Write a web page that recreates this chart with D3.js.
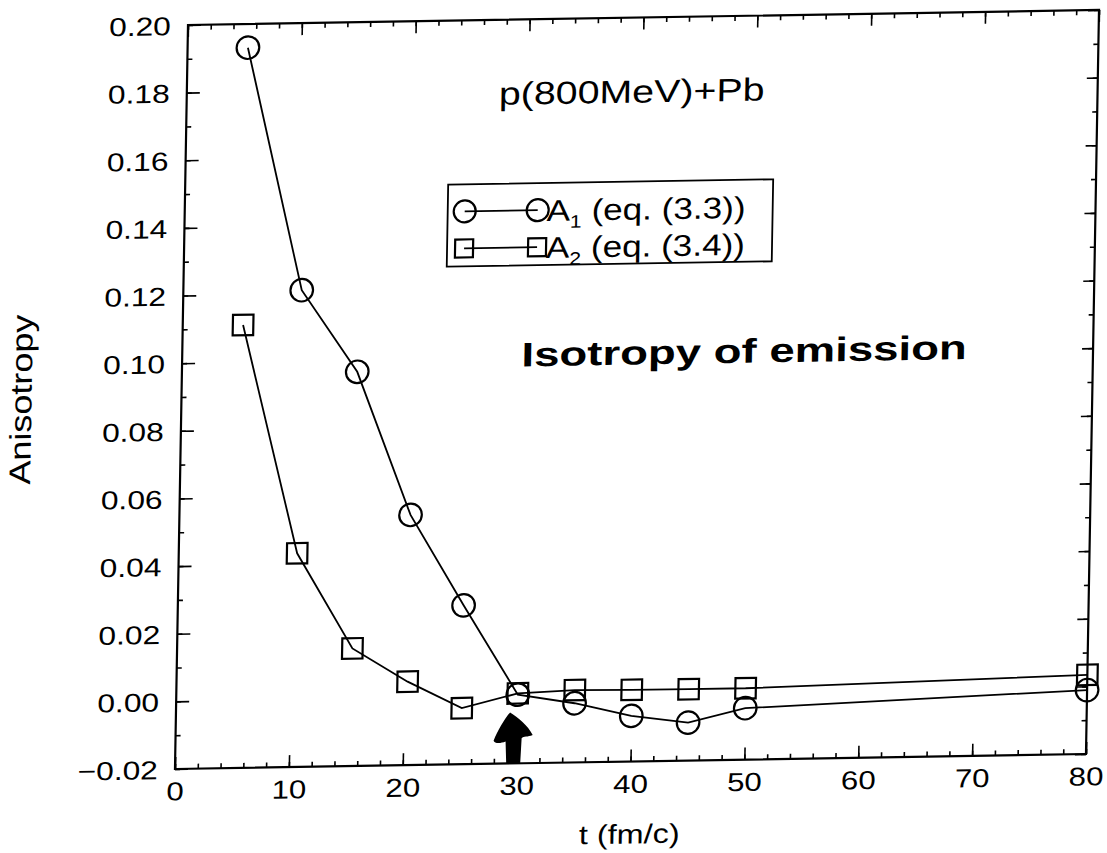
<!DOCTYPE html>
<html><head><meta charset="utf-8">
<script src="https://cdn.jsdelivr.net/npm/d3@7"></script>
<style>
html,body{margin:0;padding:0;background:#fff;}
svg{display:block;}
text{font-family:"Liberation Sans",Arial,Helvetica,sans-serif;fill:#000;}
</style></head><body>
<svg id="chart" width="1107" height="853"></svg>
<script>
// ---- data ----
const times    = [5.3, 10.4, 15.4, 20.3, 25.1, 30, 35, 40, 45, 50, 80];
const a1Values = [0.193, 0.121, 0.0966, 0.054, 0.027, 0.0003, -0.0025, -0.0065, -0.0088, -0.0048, -0.0011];
const a2Values = [0.111, 0.0432, 0.0148, 0.0047, -0.0034, 0.0007, 0.0014, 0.0012, 0.0011, 0.0011, 0.0034];
const xTicks = [0, 10, 20, 30, 40, 50, 60, 70, 80];
const xTickLabels = ["0", "10", "20", "30", "40", "50", "60", "70", "80"];
const yTicks = [-0.02, 0.00, 0.02, 0.04, 0.06, 0.08, 0.10, 0.12, 0.14, 0.16, 0.18, 0.20];
const yTickLabels = ["\u22120.02", "0.00", "0.02", "0.04", "0.06", "0.08", "0.10", "0.12", "0.14", "0.16", "0.18", "0.20"];
const legendMain = ["A", "A"];
const legendSub = ["1", "2"];
const legendRest = [" (eq. (3.3))", " (eq. (3.4))"];
const titleText = "p(800MeV)+Pb";
const xLabel = "t (fm/c)";
const yLabel = "Anisotropy";
const noteText = "Isotropy of emission";

// ---- layout ----
const W = 911, H = 744, SX = 1.2;
const svg = d3.select("#chart");
// the scanned page is slightly skewed: reproduce with an affine transform
const g = svg.append("g").attr("transform", "matrix(1,-0.0165,-0.0175,1,188,25)");

const x = d3.scaleLinear().domain([0, 80]).range([0, W]);
const y = d3.scaleLinear().domain([-0.02, 0.20]).range([H, 0]);

function styleAxis(sel) {
  sel.select(".domain").remove();
  sel.selectAll("line").attr("stroke", "#000").attr("stroke-width", 1.6);
}

// minor ticks
g.append("g").attr("transform", `translate(0,${H})`)
  .call(d3.axisBottom(x).ticks(40).tickSize(-5).tickFormat("")).call(styleAxis);
g.append("g")
  .call(d3.axisTop(x).ticks(40).tickSize(-5).tickFormat("")).call(styleAxis);
g.append("g")
  .call(d3.axisLeft(y).ticks(22).tickSize(-5).tickFormat("")).call(styleAxis);
g.append("g").attr("transform", `translate(${W},0)`)
  .call(d3.axisRight(y).ticks(22).tickSize(-5).tickFormat("")).call(styleAxis);

// major ticks
const xb = g.append("g").attr("transform", `translate(0,${H})`)
  .call(d3.axisBottom(x).tickValues(xTicks).tickSize(-12).tickPadding(13)
    .tickFormat((d, i) => xTickLabels[i])).call(styleAxis);
xb.selectAll("text").attr("font-size", 26).attr("transform", `scale(${SX},1)`)
  .attr("font-family", "Liberation Sans, Arial, sans-serif").attr("fill", "#000");
g.append("g")
  .call(d3.axisTop(x).tickValues(xTicks).tickSize(-12).tickFormat("")).call(styleAxis);
const yl = g.append("g")
  .call(d3.axisLeft(y).tickValues(yTicks).tickSize(-13).tickPadding(14)
    .tickFormat((d, i) => yTickLabels[i])).call(styleAxis);
yl.selectAll("text").attr("font-size", 26).attr("dy", "0.36em").attr("transform", `scale(1.22,1)`)
  .attr("font-family", "Liberation Sans, Arial, sans-serif").attr("fill", "#000");
g.append("g").attr("transform", `translate(${W},0)`)
  .call(d3.axisRight(y).tickValues(yTicks).tickSize(-11).tickFormat("")).call(styleAxis);

// frame
g.append("rect").attr("x", x(0)).attr("y", y(0.20)).attr("width", x(80) - x(0)).attr("height", y(-0.02) - y(0.20))
  .attr("fill", "none").attr("stroke", "#000").attr("stroke-width", 2.2);

// axis titles
g.append("text").attr("transform", `translate(${(x(0) + x(80)) / 2},${H + 82}) scale(${SX},1)`)
  .attr("text-anchor", "middle").attr("font-size", 27).text(xLabel);
g.append("text").attr("transform", `translate(-150,${(y(0.20) + y(-0.02)) / 2}) rotate(-90) scale(${SX},1)`)
  .attr("text-anchor", "middle").attr("font-size", 30).text(yLabel);

// title
g.append("text").attr("transform", `translate(445,85) scale(1.23,1)`)
  .attr("text-anchor", "middle").attr("font-size", 32).text(titleText);

// data
const pts1 = times.map((t, i) => [t, a1Values[i]]);
const pts2 = times.map((t, i) => [t, a2Values[i]]);
const line = d3.line().x(d => x(d[0])).y(d => y(d[1]));
g.append("path").datum(pts1).attr("d", line).attr("fill", "none").attr("stroke", "#000").attr("stroke-width", 1.8);
g.append("path").datum(pts2).attr("d", line).attr("fill", "none").attr("stroke", "#000").attr("stroke-width", 1.8);
g.selectAll("circle.a1").data(pts1).join("circle").attr("class", "a1")
  .attr("cx", d => x(d[0])).attr("cy", d => y(d[1])).attr("r", 11.3)
  .attr("fill", "none").attr("stroke", "#000").attr("stroke-width", 2.2);
const SQ = 20.5;
g.selectAll("rect.a2").data(pts2).join("rect").attr("class", "a2")
  .attr("x", d => x(d[0]) - SQ / 2).attr("y", d => y(d[1]) - SQ / 2).attr("width", SQ).attr("height", SQ)
  .attr("fill", "none").attr("stroke", "#000").attr("stroke-width", 2.2);

// legend
const lg = g.append("g").attr("transform", `translate(${x(23.1)},${y(0.1515)})`);
lg.append("rect").attr("width", 325).attr("height", 82).attr("fill", "none").attr("stroke", "#000").attr("stroke-width", 1.8);
const rowsY = [27, 64], baseY = [38, 75];
legendMain.forEach((m, i) => {
  lg.append("line").attr("x1", 17).attr("x2", 90).attr("y1", rowsY[i]).attr("y2", rowsY[i])
    .attr("stroke", "#000").attr("stroke-width", 1.8);
  [17, 90].forEach(cx => {
    if (i === 0) {
      lg.append("circle").attr("cx", cx).attr("cy", rowsY[i]).attr("r", 11)
        .attr("fill", "none").attr("stroke", "#000").attr("stroke-width", 2.2);
    } else {
      lg.append("rect").attr("x", cx - 9).attr("y", rowsY[i] - 9).attr("width", 18).attr("height", 18)
        .attr("fill", "none").attr("stroke", "#000").attr("stroke-width", 2.2);
    }
  });
  const t = lg.append("text").attr("transform", `translate(99,${baseY[i]}) scale(1.17,1)`).attr("font-size", 30);
  t.append("tspan").text(m);
  t.append("tspan").attr("font-size", 18).attr("dy", 7).text(legendSub[i]);
  t.append("tspan").attr("dy", -7).text(legendRest[i]);
});

// handwritten note
g.append("text").attr("transform", `translate(562,347) scale(1.34,1)`)
  .attr("text-anchor", "middle").attr("font-size", 34).attr("font-weight", "bold")
  .attr("font-family", "DejaVu Sans, sans-serif").text(noteText);

// hand-drawn arrow pointing at t = 30
const ax = x(29.7), ay = y(-0.02);
g.append("path")
  .attr("d", `M${ax - 4},${ay - 51} C${ax + 4},${ay - 46} ${ax + 14},${ay - 38} ${ax + 19},${ay - 28}
     C${ax + 14},${ay - 26} ${ax + 10},${ay - 27} ${ax + 8},${ay - 25} L${ax + 7},${ay}
     L${ax - 7},${ay} L${ax - 8},${ay - 22} C${ax - 13},${ay - 20} ${ax - 19},${ay - 20} ${ax - 20},${ay - 23}
     C${ax - 16},${ay - 33} ${ax - 10},${ay - 44} ${ax - 4},${ay - 51} Z`)
  .attr("fill", "#000");
</script>
</body></html>
